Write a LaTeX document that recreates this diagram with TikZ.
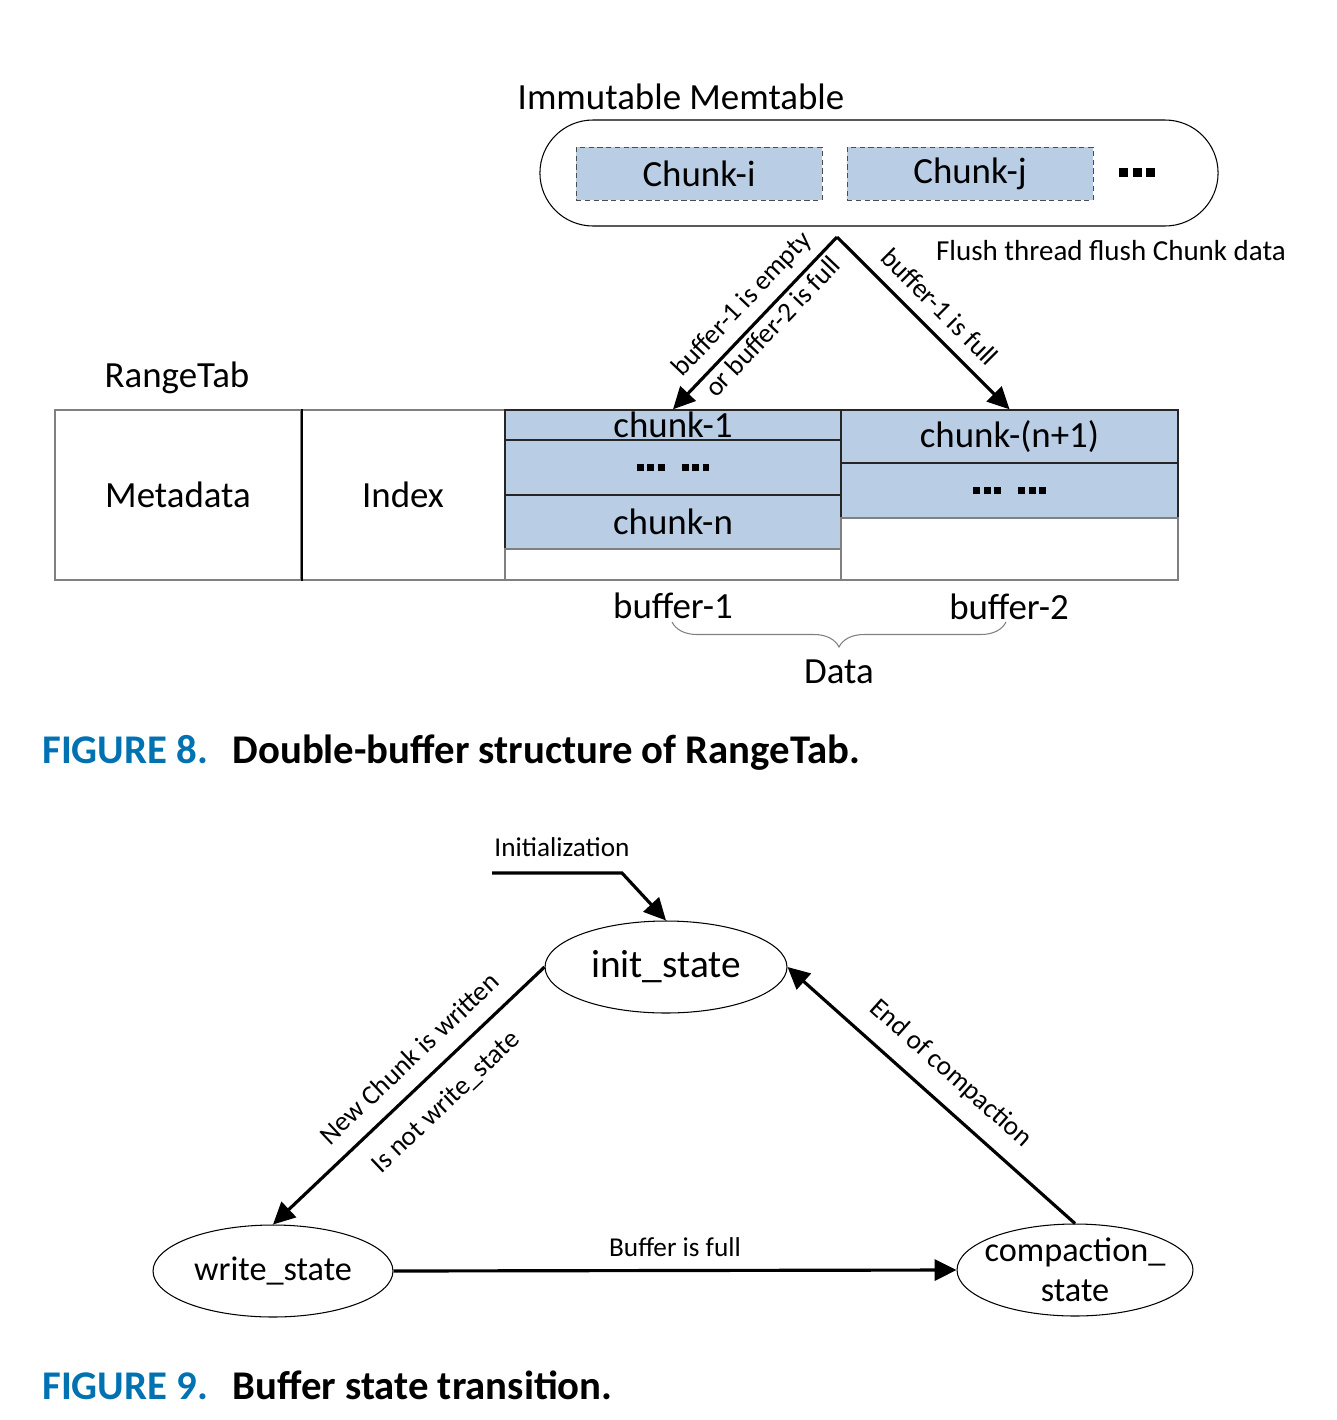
\documentclass[tikz,border=0pt]{standalone}
\usepackage{fontspec}
\setmainfont{Carlito}
\usetikzlibrary{positioning,shapes.geometric,shapes.misc,arrows.meta,decorations.pathreplacing}

\definecolor{chunkblue}{RGB}{185,205,229}
\definecolor{capblue}{RGB}{0,114,178}
\definecolor{framegray}{RGB}{128,128,128}

% three square dots, #1 = side of one dot
\newcommand\sqdots[1]{\rule{#1}{#1}\hspace{\dimexpr #1/2\relax}\rule{#1}{#1}\hspace{\dimexpr #1/2\relax}\rule{#1}{#1}}

\tikzset{
  textbig/.style={font=\fontsize{21}{25}\selectfont, inner sep=1pt},
  textsmall/.style={font=\fontsize{15.5}{18}\selectfont, inner sep=2pt},
  chunkbox/.style={rectangle, draw=black!70, dash pattern=on 3pt off 2pt, fill=chunkblue, minimum width=4.92cm, minimum height=1.06cm, textbig},
  cell/.style={rectangle, draw=framegray, line width=0.8pt, minimum height=3.4cm, inner sep=0pt, textbig},
  rowbox/.style={rectangle, draw=black!85, line width=0.8pt, fill=chunkblue, inner sep=0pt, textbig},
  state/.style={ellipse, draw, line width=0.6pt, fill=white, minimum height=1.84cm, inner sep=-0.2cm},
  flow/.style={-{Triangle[length=12.5pt,width=12pt]}, line width=1.8pt},
  caption/.style={anchor=west, inner sep=0pt, font=\fontsize{23.2}{28}\selectfont\bfseries}
}

\begin{document}
\begin{tikzpicture}[x=0.02cm, y=-0.02cm]
\useasboundingbox (0,0) rectangle (1337,1420);

% Immutable memtable
\draw (681,97) node [textbig] (memLabel) {Immutable Memtable};
\draw (879,173) node [rounded rectangle, draw, line width=0.6pt, minimum width=13.8cm, minimum height=2.12cm] (memtable) {};
\draw (699,173.5) node [chunkbox] (chunkI) {Chunk-i};
\draw (970,173.5) node [chunkbox] (chunkJ) {Chunk-j};
\draw (1137,172) node [inner sep=0pt] (memDots) {\sqdots{0.18cm}};
\draw (1111,251) node [font=\fontsize{16.5}{20}\selectfont] (flushLabel) {Flush thread flush Chunk data};
\coordinate (apex) at (837,237);

% RangeTab
\draw (177,378) node [textbig] (rtLabel) {RangeTab};
\draw (178,495) node [cell, minimum width=4.92cm] (meta) {Metadata};
\draw (403,495) node [cell, minimum width=4.08cm] (index) {Index};
\draw (673,425) node [rowbox, minimum width=6.72cm, minimum height=0.6cm] (chunkOne) {chunk-1};
\draw (673,467.5) node [rowbox, minimum width=6.72cm, minimum height=1.1cm] (dotsOne) {\sqdots{0.14cm}\hspace{0.34cm}\sqdots{0.14cm}};
\draw (673,522) node [rowbox, minimum width=6.72cm, minimum height=1.08cm] (chunkN) {chunk-n};
\draw (673,564.5) node [rowbox, fill=white, draw=framegray, minimum width=6.72cm, minimum height=0.62cm] (emptyOne) {};
\draw (1009.5,436.5) node [rowbox, minimum width=6.74cm, minimum height=1.06cm] (chunkNext) {chunk-(n+1)};
\draw (1009.5,490.5) node [rowbox, minimum width=6.74cm, minimum height=1.1cm] (dotsTwo) {\sqdots{0.14cm}\hspace{0.34cm}\sqdots{0.14cm}};
\draw (1009.5,549) node [rowbox, fill=white, draw=framegray, minimum width=6.74cm, minimum height=1.24cm] (emptyTwo) {};
\draw [line width=1.1pt] (meta.north east) -- (meta.south east);

\draw (673,606) node [textbig] (bufOne) {buffer-1};
\draw (1009,607) node [textbig] (bufTwo) {buffer-2};
\coordinate (braceR) at (1006,622);
\coordinate (braceL) at (672,622);
\draw [framegray, line width=0.6pt, decorate, decoration={brace, amplitude=0.5cm}] (braceR) -- (braceL);
\draw (839,672) node [textbig] (dataLabel) {Data};

% flush arrows
\draw [flow] (apex) -- node [textsmall, sloped, above=3pt, pos=0.48] {buffer-1 is empty} node [textsmall, sloped, below, pos=0.46] {or buffer-2 is full} (chunkOne.north);
\draw [flow] (apex) -- node [textsmall, sloped, above=5pt, pos=0.5] {buffer-1 is full} (chunkNext.north);

\draw (42,753) node [caption] (capEight) {{\color{capblue}FIGURE 8.}\hspace{0.6em}Double-buffer structure of RangeTab.};

% state transition
\draw (666,967) node [state, minimum width=4.84cm, font=\fontsize{22.4}{26}\selectfont] (init) {init\_state};
\draw (273,1271) node [state, minimum width=4.8cm, font=\fontsize{19.5}{23}\selectfont] (write) {write\_state};
\draw (1075,1270) node [state, minimum width=4.72cm, align=center, font=\fontsize{19.5}{23}\selectfont] (compaction) {compaction\_\\state};

\draw (562,847) node [textsmall] (initLabel) {Initialization};
\coordinate (initStart) at (492,873);
\coordinate (initBend) at (622,873);
\draw [flow] (initStart) -- (initBend) -- (init.north);

\draw [flow] (init.west) -- node [textsmall, sloped, above=7pt, pos=0.43] {New Chunk is written} node [textsmall, sloped, below=8pt, pos=0.44] {Is not write\_state} (write.north);
\draw [flow] (compaction.north) -- node [textsmall, sloped, above=7pt, pos=0.5] {End of compaction} (init.east);
\draw [flow] (write.east) -- node [textsmall, above=5pt] {Buffer is full} (compaction.west);

\draw (42,1385) node [caption] (capNine) {{\color{capblue}FIGURE 9.}\hspace{0.6em}Buffer state transition.};
\end{tikzpicture}
\end{document}
